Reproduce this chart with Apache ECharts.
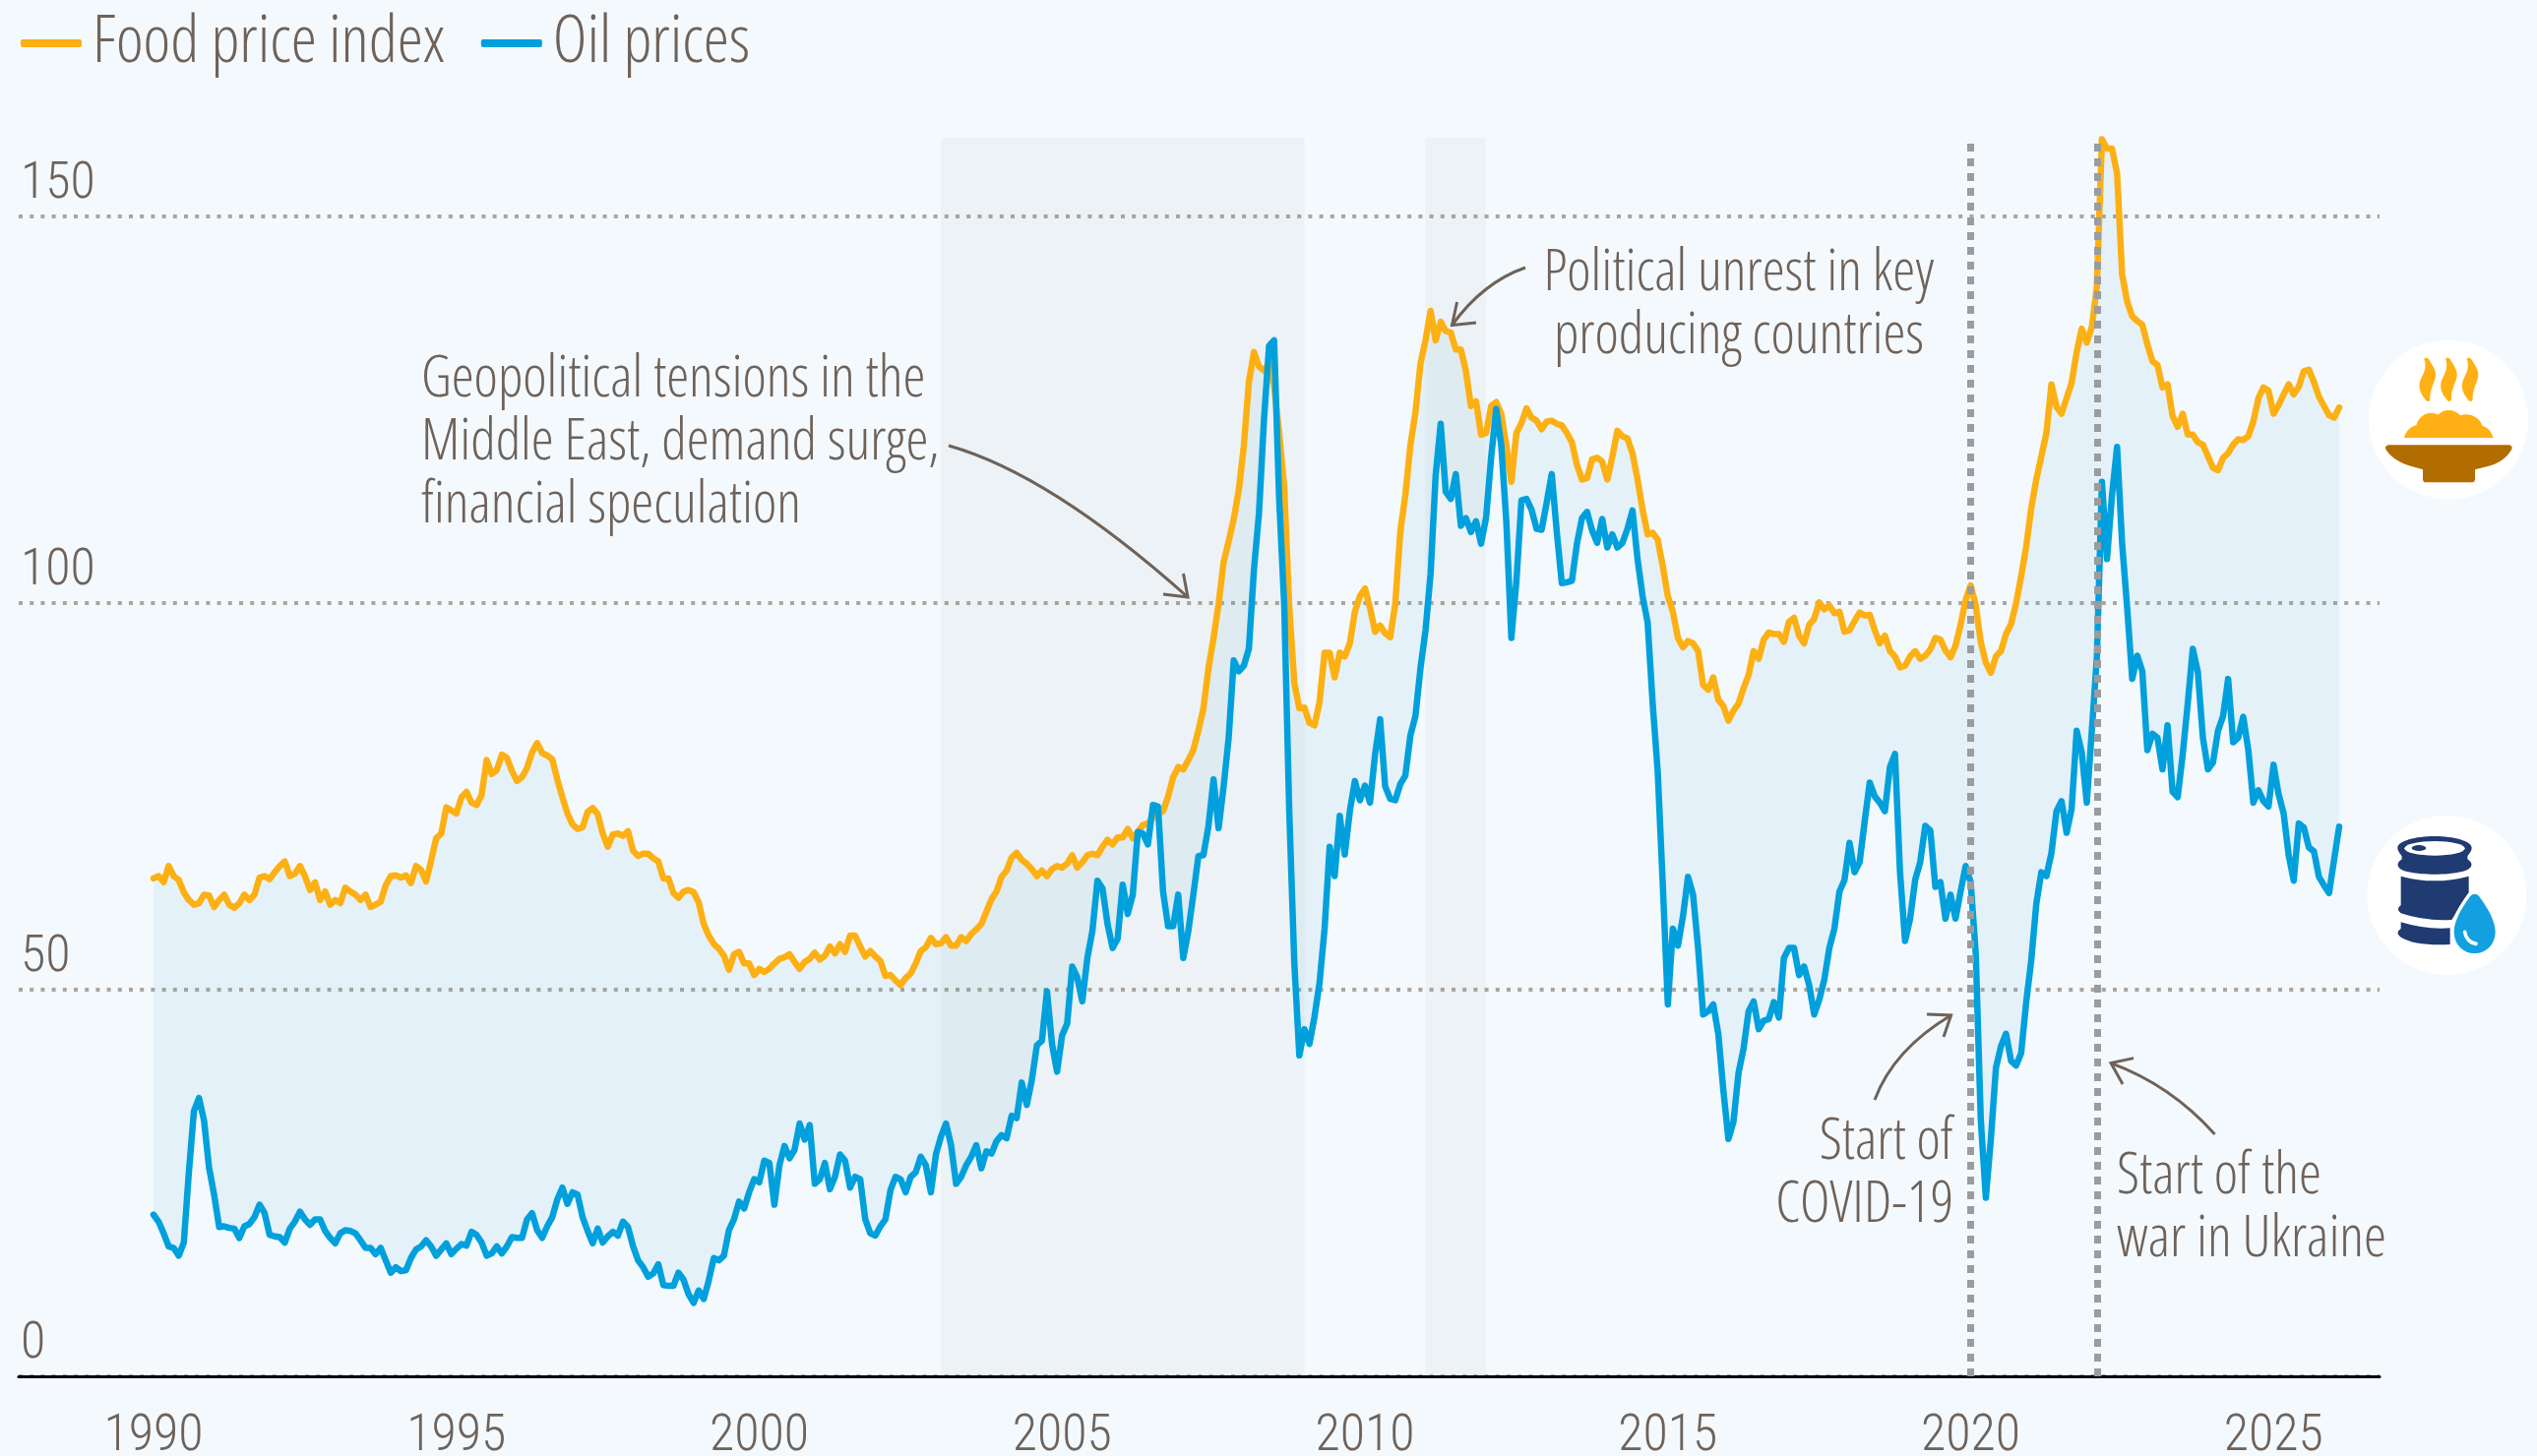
<!DOCTYPE html>
<html>
<head>
<meta charset="utf-8">
<style>html,body{margin:0;padding:0;background:#F4F9FE}#c{width:2578px;height:1480px}</style>
<script src="https://cdn.jsdelivr.net/npm/echarts@6/dist/echarts.min.js"></script>
</head>
<body>
<div id="c"></div>
<script>
const seriesNames = ["Food price index", "Oil prices"];
const startYear = 1990;
const xTicks = [1990, 1995, 2000, 2005, 2010, 2015, 2020, 2025];
const yTicks = [0, 50, 100, 150];
const shadedPeriods = [[2003, 2009], [2011, 2012]];
const eventLines = [2020, 2022.09];

const foodIndex = [
64.4,64.7,63.9,66,64.7,64.2,62.6,61.6,61,61.2,62.3,62.2,
60.7,61.6,62.3,61,60.6,61.2,62.3,61.6,62.3,64.5,64.7,64.3,
65.2,66,66.6,64.7,65,66,64.7,62.9,63.9,61.6,62.7,61,
61.6,61.2,63.2,62.7,62.3,61.6,62.3,60.7,61,61.4,63.5,64.7,
64.8,64.5,64.8,63.8,66,65.5,64,66.7,69.6,70.2,73.6,73.2,
72.8,74.9,75.6,74.2,73.9,75.2,79.7,77.9,78.4,80.4,80,78.3,
77,77.5,78.7,80.7,81.9,80.6,80.3,79.8,77.2,74.9,72.8,71.4,
70.8,71,73,73.5,72.7,70.2,68.5,70.1,70.2,69.9,70.5,68,
67.3,67.6,67.6,67,66.6,64.4,64.4,62.5,61.9,62.7,62.9,62.6,
61.3,58.5,57,55.9,55.3,54.4,52.6,54.6,54.9,53.4,53.4,51.9,
52.7,52.3,52.7,53.4,54,54.2,54.6,53.6,52.7,53.6,54,54.8,
53.9,54.4,55.6,54.7,55.9,54.9,57,57,55.6,54.3,55,54.3,
53.7,51.8,51.9,51.2,50.6,51.5,52.1,53.4,55,55.5,56.7,55.9,
56,56.8,55.7,55.7,56.8,56.3,57.2,57.8,58.5,60.1,61.7,62.7,
64.6,65.4,67.1,67.7,66.8,66.3,65.6,64.7,65.4,64.7,65.6,66,
65.8,66.3,67.4,65.8,66.5,67.4,67.6,67.4,68.5,69.4,68.8,69.7,
69.7,70.8,69.6,70.4,71.3,71.5,72.3,72.8,73.1,75,77.5,78.8,
78.5,79.7,81,83.5,86.4,91.6,95.5,99.9,105.3,108,110.9,114.6,
120.3,128.6,132.5,130.6,130.1,131,128,122,115,99.4,89.7,86.4,
86.5,84.5,84.2,87.2,93.6,93.6,90.4,93.6,93.1,94.8,98.9,100.9,
101.9,99.4,96.3,97.1,96.1,95.6,99.9,109.2,114,120.4,124.7,131,
134,137.8,134,136.4,135.2,135,132.8,132.8,130,125.5,126.1,121.8,
122,125.5,126,124.5,120.4,115.7,122,123.3,125.2,124,123.6,122.5,
123.5,123.6,123.2,123,122,120.8,117.9,116,116.2,118.6,118.8,118.3,
116,118.9,122.3,121.6,121.3,119.4,116,112.1,108.9,109.1,108.2,104.8,
100.9,98.9,95.5,94.3,95.1,94.8,93.8,89.4,88.8,90.4,87.5,86.7,
84.8,86.1,87,89,90.7,93.8,92.8,95.3,96.2,96,96,95,
97.6,98.1,95.8,94.8,97.2,98,100.1,99.2,99.7,98.7,98.9,96.3,
96.5,97.7,98.8,98.4,98.5,96.5,94.8,95.8,93.8,93.1,91.7,91.9,
93.1,93.8,92.8,93.2,94,95.5,95.3,93.9,93,94.5,97.2,100.4,
102.3,99.7,95,92.3,91,93.1,93.8,96,97.3,100,103.5,107.3,
112.3,116,119,122,128.3,125.4,124.5,126.5,128.5,132.5,135.5,133.7,
135.7,141,160,158.8,158.8,155.6,142.5,139,137.1,136.5,136,133.5,
131.3,130.8,127.9,128.3,124.2,122.8,124.5,121.8,121.8,120.8,120.5,119,
117.5,117.2,118.8,119.4,120.5,121.2,121.1,121.6,123.5,126.5,127.9,127.5,
124.5,125.6,127,128.3,127,128,130,130.2,128.6,126.7,125.5,124.3,
124,125.3];

const oilPrices = [
20.9,20,18.5,16.8,16.6,15.6,17.3,26.4,34.3,36,33.1,27,
23.5,19.3,19.4,19.2,19.1,17.9,19.4,19.7,20.6,22.2,21.1,18.3,
18.1,18,17.3,19.1,20,21.3,20.3,19.6,20.3,20.3,18.8,17.9,
17.2,18.5,18.9,18.8,18.5,17.6,16.6,16.6,15.8,16.6,15,13.4,
14.1,13.6,13.7,15.3,16.4,16.8,17.6,16.8,15.6,16.4,17.2,15.8,
16.5,17.1,16.9,18.7,18.3,17.3,15.6,15.9,16.8,15.9,16.8,18,
17.9,17.9,20.3,21.1,18.9,17.9,19.4,20.6,22.9,24.4,22.3,23.8,
23.5,20.6,18.8,17.2,19.1,17.3,18.1,18.7,18.2,20,19.3,16.8,
15,14.1,12.9,13.3,14.5,11.8,11.7,11.7,13.4,12.5,10.6,9.5,
11.1,10,12.4,15.3,15,15.6,18.9,20.3,22.6,21.7,23.8,25.5,
25.1,27.9,27.6,22.2,27.3,29.8,28.2,29.3,32.7,30.6,32.5,24.9,
25.5,27.6,24.2,25.8,28.7,27.9,24.4,25.8,25.5,20.3,18.5,18.2,
19.4,20.3,24.1,25.8,25.5,23.8,25.8,26.4,28.4,27.3,23.8,28.7,
31,32.7,29.9,24.9,25.8,27.3,28.4,29.9,26.9,29.1,28.8,30.4,
31.2,30.8,33.7,33.4,38,35.1,38.3,42.8,43.4,49.8,43,39.4,
44.1,45.6,53,51.6,48.5,54.1,57.6,64.1,63.1,58.5,55.4,56.6,
63.6,59.8,62.3,70.4,70.2,68.8,73.9,73.7,62.7,58.2,58.2,62.3,
54.1,57.6,62.3,67.3,67.4,71.2,77.2,70.9,76.3,82.6,92.6,91.2,
91.9,94.1,104.3,111.6,123.8,133.3,134,113.5,99.9,73.1,53.5,41.5,
44.9,43,46.5,50.9,57.9,68.5,64.7,72.5,67.5,73.1,77,74.5,
76.4,74.2,80.4,85,76.3,74.7,74.5,76.6,77.7,82.9,85.4,91.6,
96.5,103.8,116.5,123.2,114.4,113.5,116.7,110,111,109.2,110.6,107.7,
111.1,118.9,125.1,120.4,110.6,95.5,102.8,113.3,113.5,112.1,109.6,109.5,
113,116.7,109.2,102.6,102.7,102.9,107.7,111,111.8,109.4,107.8,110.9,
107.2,108.9,107.2,107.8,109.6,112,105.7,100.9,97.5,87,78.2,63.6,
48.1,57.9,55.7,59.5,64.6,62.3,55.4,46.8,47.2,48.1,44.3,37,
30.7,32.9,39.2,42.4,47.2,48.5,44.9,46,46.2,48.4,46.4,54.1,
55.4,55.4,51.9,53,50.6,46.8,48.7,51.3,55.4,57.9,62.7,64.2,
69,65.2,66.5,71.8,76.8,75,74.2,73.1,78.8,80.5,65.2,56.3,
59.2,64.2,66.5,71.2,70.6,63.3,63.9,59.2,62.3,59.2,62.7,66,
63.9,54.7,33.2,23.1,30.7,39.9,42.7,44.3,40.8,40.2,41.8,48.4,
53.8,61.1,65.2,64.7,67.7,73.1,74.4,70.3,73.4,83.5,80.7,74.2,
83.5,93,115.7,105.7,114,120.2,107.7,99.4,90.2,93.2,91.2,81,
83.1,82.6,78.5,84.2,75.6,74.9,80.4,87,94.1,91.1,82.6,78.5,
79.4,83.5,85.4,90.2,82,82.6,85.3,81,74.2,75.8,74.4,73.7,
79.1,75.3,72.8,67.4,64.1,71.5,71,68.4,67.9,64.6,63.5,62.5,
66.8,71.1];

const timeAxis = foodIndex.map((_, i) => startYear + i / 12);

const FAMILY = '"Open Sans"';
const DIGITS = 'Roboto';
const narrow = (size, family) => ({fontFamily:family || FAMILY, fontStyle:'condensed', fontWeight:300, fontSize:size});
const TEXT = '#6E6259';
const FOOD = '#FDB014';
const OIL = '#00A0DC';

const foodIcon = 'data:image/svg+xml;utf8,' + encodeURIComponent(
`<svg xmlns="http://www.w3.org/2000/svg" width="600" height="600" viewBox="0 0 600 600">
<circle cx="330" cy="320" r="243" fill="#fff"/>
<g fill="#FFB014"><path d="M255 135Q262 126 270 135C285 160 292 170 291 185C290 205 272 225 274 258Q272 268 262 262C245 240 238 225 243 205C248 185 265 170 258 140Z"/>
<path transform="translate(65 0)" d="M255 135Q262 126 270 135C285 160 292 170 291 185C290 205 272 225 274 258Q272 268 262 262C245 240 238 225 243 205C248 185 265 170 258 140Z"/>
<path transform="translate(130 0)" d="M255 135Q262 126 270 135C285 160 292 170 291 185C290 205 272 225 274 258Q272 268 262 262C245 240 238 225 243 205C248 185 265 170 258 140Z"/>
<path d="M195 375C200 355 215 340 232 337C240 310 262 297 285 300C295 302 298 305 300 304C315 288 345 285 367 307C390 297 425 310 433 338C450 342 462 358 467 375Z"/></g>
<path fill="#B26D00" d="M148 397H515Q528 400 522 412C505 440 480 455 450 462L411 472V500Q411 511 400 511H262Q252 511 252 500V472L210 460C180 450 155 435 140 412Q133 400 148 397Z"/>
</svg>`);

const oilIcon = 'data:image/svg+xml;utf8,' + encodeURIComponent(
`<svg xmlns="http://www.w3.org/2000/svg" width="600" height="600" viewBox="0 0 600 600">
<circle cx="325" cy="330" r="243" fill="#fff"/>
<g fill="#203A72"><path d="M175 185C175 165 230 150 288 150C346 150 401 165 401 185C401 197 390 205 388 212V220C396 226 402 232 400 240C395 258 345 266 288 266C231 266 180 258 176 240C174 232 180 226 188 220V212C186 205 175 197 175 185Z"/>
<path d="M185 272Q288 300 392 272V322L340 405Q260 410 185 385Q168 373 185 360Z"/>
<path d="M185 412Q260 435 335 430V480Q230 485 185 458Q165 445 185 432Z"/></g>
<ellipse cx="288" cy="187" rx="92" ry="22" fill="#fff"/>
<ellipse cx="240" cy="186" rx="22" ry="9" fill="#203A72"/>
<path fill="#12A0E0" stroke="#fff" stroke-width="20" paint-order="stroke" d="M410 326C420 326 425 335 430 342C450 370 473 410 473 440C473 480 445 507 410 507C375 507 347 480 347 440C347 410 370 370 390 342C395 335 400 326 410 326Z"/>
<path fill="none" stroke="#fff" stroke-width="11" stroke-linecap="round" d="M380 442C382 460 395 476 414 478"/>
</svg>`);

function note(text, x, y, align) {
  return {type:'text', silent:true, z:20, style:{text, x, y, align, verticalAlign:'middle',
    font:'condensed 300 58px ' + FAMILY, lineHeight:64, fill:TEXT}};
}
function arrow(x1,y1,cx,cy,x2,y2,hx1,hy1,hx2,hy2) {
  return [
    {type:'bezierCurve', silent:true, z:20, shape:{x1,y1,cpx1:cx,cpy1:cy,x2,y2},
      style:{stroke:TEXT, lineWidth:3, fill:null}},
    {type:'polyline', silent:true, z:20, shape:{points:[[hx1,hy1],[x2,y2],[hx2,hy2]]},
      style:{stroke:TEXT, lineWidth:3, fill:null}}
  ];
}

const chart = echarts.init(document.getElementById('c'), null, {width:2578, height:1480, renderer:'canvas'});
chart.setOption({
  animation:false,
  backgroundColor:'#F4F9FE',
  textStyle:{fontFamily:FAMILY},
  legend:{
    data:seriesNames, left:16, top:6, itemWidth:62, itemHeight:8, itemGap:37,
    icon:'roundRect', selectedMode:false,
    textStyle:{...narrow(66), color:TEXT, padding:[0,0,0,6]}
  },
  grid:{left:19, top:140, width:2399, height:1259, containLabel:false, outerBoundsMode:'none'},
  xAxis:{
    type:'value', min:1987.774, max:2026.75,
    axisLine:{show:true, onZero:false, lineStyle:{color:'#000', width:3}},
    axisTick:{show:false, customValues:xTicks},
    splitLine:{show:false},
    axisLabel:{customValues:xTicks, formatter:v=>String(Math.round(v)), ...narrow(52, DIGITS), color:TEXT, margin:36, hideOverlap:false}
  },
  yAxis:{
    type:'value', min:0, max:160.2,
    axisLine:{show:false},
    axisTick:{show:false, customValues:yTicks},
    splitLine:{show:true, lineStyle:{color:'#ABA59D', width:4, type:[4,7.2]}},
    axisLabel:{customValues:yTicks, inside:true, margin:2, verticalAlign:'bottom', padding:[0,0,6,0],
      formatter:v=>String(Math.round(v)), ...narrow(52, DIGITS), color:TEXT}
  },
  series:[
    {
      type:'custom', name:'gap', z:1, silent:true, clip:false,
      coordinateSystem:'cartesian2d',
      encode:{x:0, y:[1,2]},
      data:timeAxis.map((t,i)=>[t, foodIndex[i], oilPrices[i]]),
      renderItem(params, api){
        if (params.dataIndex !== 0) return null;
        const upper = timeAxis.map((t,i)=>api.coord([t, foodIndex[i]]));
        const lower = timeAxis.map((t,i)=>api.coord([t, oilPrices[i]])).reverse();
        return {type:'polygon', shape:{points:upper.concat(lower)}, style:{fill:'rgba(75,165,205,0.09)'}};
      },
      markArea:{silent:true, itemStyle:{color:'rgba(128,130,122,0.06)'},
        data:shadedPeriods.map(p=>[{xAxis:p[0], yAxis:0},{xAxis:p[1], yAxis:160.2}])},
      markLine:{silent:true, symbol:'none', label:{show:false},
        lineStyle:{color:'#9A9C9E', width:7, type:[8,7], cap:'butt'},
        data:eventLines.map(x=>[{xAxis:x, yAxis:0},{xAxis:x, yAxis:160.2}])}
    },
    {type:'line', name:seriesNames[0], z:3, data:timeAxis.map((t,i)=>[t, foodIndex[i]]), showSymbol:false, symbol:'none',
      color:FOOD, lineStyle:{color:FOOD, width:6.5, join:'round', cap:'round'}, itemStyle:{color:FOOD}},
    {type:'line', name:seriesNames[1], z:4, data:timeAxis.map((t,i)=>[t, oilPrices[i]]), showSymbol:false, symbol:'none',
      color:OIL, lineStyle:{color:OIL, width:6.5, join:'round', cap:'round'}, itemStyle:{color:OIL}}
  ],
  graphic:{elements:[
    note('Geopolitical tensions in the\nMiddle East, demand surge,\nfinancial speculation', 428, 450, 'left'),
    ...arrow(964,453,1067,482,1207,607,1182,604,1202.5,583),
    note('Political unrest in key\nproducing countries', 1767, 310, 'center'),
    ...arrow(1550,272,1507,287,1475.5,330.5,1480.6,307,1500,328),
    note('Start of\nCOVID-19', 1985, 1193, 'right'),
    ...arrow(1905,1118,1924,1067,1982.6,1032,1958,1031,1975,1054),
    note('Start of the\nwar in Ukraine', 2151, 1228, 'left'),
    ...arrow(2250.6,1153,2206,1103,2145,1080.6,2168,1075.6,2157,1102),
    {type:'image', silent:true, z:15, x:2378, y:320, style:{image:foodIcon, x:0, y:0, width:200, height:200}},
    {type:'image', silent:true, z:15, x:2378, y:800, style:{image:oilIcon, x:0, y:0, width:200, height:200}}
  ]}
});
</script>
</body>
</html>
